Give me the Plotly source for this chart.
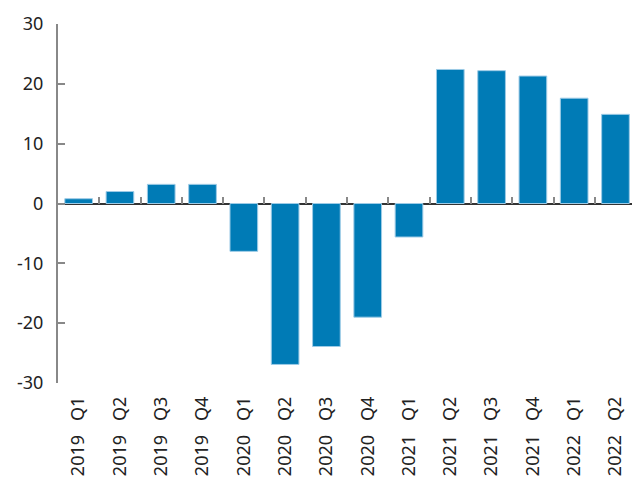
import plotly.graph_objects as go

quarters = ["2019 Q1", "2019 Q2", "2019 Q3", "2019 Q4",
            "2020 Q1", "2020 Q2", "2020 Q3", "2020 Q4",
            "2021 Q1", "2021 Q2", "2021 Q3", "2021 Q4",
            "2022 Q1", "2022 Q2"]
values = [0.8, 2.0, 3.2, 3.2, -8.0, -26.9, -23.9, -19.0, -5.6,
          22.4, 22.2, 21.3, 17.6, 14.9]
y_tickvals = [-30, -20, -10, 0, 10, 20, 30]
y_ticktext = ["-30", "-20", "-10", "0", "10", "20", "30"]

tick_labels = [q.replace(" ", "\u00a0\u00a0\u00a0") for q in quarters]

FONT = "Noto Sans"

fig = go.Figure()
fig.add_trace(go.Bar(
    x=quarters, y=values,
    marker=dict(color="#007BB6", line=dict(color="#9DCBE6", width=1)),
    hoverinfo="x+y", showlegend=False,
))
# invisible trace for the zero-line tick axis
fig.add_trace(go.Scatter(
    x=quarters, y=[0] * len(quarters), xaxis="x2", mode="markers",
    marker=dict(opacity=0), hoverinfo="skip", showlegend=False,
))

xrange = [-0.5, 13.4]
fig.update_layout(
    width=632, height=485,
    margin=dict(l=58, r=0, t=24, b=102),
    paper_bgcolor="white", plot_bgcolor="white",
    bargap=0.33,
    font=dict(family=FONT, size=18, color="#222222"),
    xaxis=dict(
        type="category", categoryarray=quarters, range=xrange,
        tickmode="array", tickvals=quarters, ticktext=tick_labels,
        tickangle=-90, showline=False, showgrid=False, zeroline=False,
        ticks="", ticklabelstandoff=9,
        tickfont=dict(family=FONT, size=18, color="#222222"),
    ),
    xaxis2=dict(
        type="category", categoryarray=quarters, range=xrange,
        overlaying="x", anchor="free", position=0.5, side="bottom",
        showline=False, showgrid=False, zeroline=False,
        ticks="inside", tickson="boundaries", ticklen=7, tickwidth=2,
        tickcolor="#888888", showticklabels=False,
    ),
    yaxis=dict(
        range=[-30, 30], tickmode="array", tickvals=y_tickvals,
        ticktext=y_ticktext, showgrid=False,
        showline=True, linecolor="#888888", linewidth=2,
        ticks="inside", ticklen=7, tickwidth=1.5, tickcolor="#888888",
        zeroline=True, zerolinecolor="#333333", zerolinewidth=2,
        ticklabelstandoff=9,
        tickfont=dict(family=FONT, size=18, color="#222222"),
    ),
)

fig.write_html(
    "out.html",
    config={"displayModeBar": False},
    post_script="document.body.style.margin='0px';document.body.style.padding='0px';",
)
